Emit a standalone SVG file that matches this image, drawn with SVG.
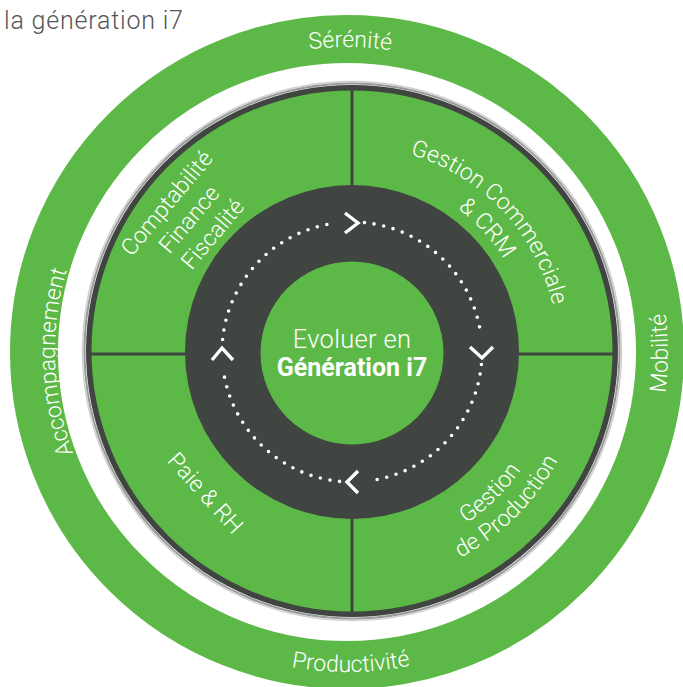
<svg xmlns="http://www.w3.org/2000/svg" width="683" height="687" viewBox="0 0 683 687">
<style>
.lbl{font-family:Roboto,"Liberation Sans",sans-serif;fill:#fff}
.ring{font-size:23px;font-weight:300}
.q{font-size:23px;font-weight:300}
.div{stroke:#404541;stroke-width:3}
.dot{fill:none;stroke:#fff;stroke-width:3.6;stroke-linecap:round;stroke-dasharray:0 9.77}
.chev{fill:none;stroke:#fff;stroke-width:3.4}
</style>
<defs>
<path id="t305" d="M -305 0 A 305 305 0 0 1 305 0"/>
<path id="t292" d="M -292 0 A 292 292 0 0 1 292 0"/>
<path id="b320" d="M -320 0 A 320 320 0 0 0 320 0"/>
<path id="b321" d="M -321 0 A 321 321 0 0 0 321 0"/>
<path id="t206" d="M -206 0 A 206 206 0 0 1 206 0"/>
<path id="t178" d="M -178 0 A 178 178 0 0 1 178 0"/>
<path id="b232" d="M -232.5 0 A 232.5 232.5 0 0 0 232.5 0"/>
<path id="b206" d="M -206 0 A 206 206 0 0 0 206 0"/>
</defs>
<rect width="683" height="687" fill="#fff"/>
<text id="title" x="4" y="29" font-family="Roboto,'Liberation Sans',sans-serif" font-size="25" font-weight="300" letter-spacing="0.8" fill="#555">la génération i7</text>

<g id="outer-ring">
<circle cx="347" cy="352" r="313" fill="none" stroke="#5db947" stroke-width="48"/>
<g transform="translate(347,352) rotate(0.6)"><text class="lbl ring" text-anchor="middle"><textPath href="#t305" startOffset="50%">Sérénité</textPath></text></g>
<g transform="translate(347,352) rotate(-92)"><text class="lbl ring" text-anchor="middle"><textPath href="#t292" startOffset="50%">Accompagnement</textPath></text></g>
<g transform="translate(347,352) rotate(-0.7)"><text class="lbl ring" text-anchor="middle"><textPath href="#b320" startOffset="50%">Productivité</textPath></text></g>
<g transform="translate(347,352) rotate(-89.8)"><text class="lbl ring" text-anchor="middle"><textPath href="#b321" startOffset="50%">Mobilité</textPath></text></g>
</g>

<g id="modules">
<circle cx="352" cy="351" r="269.5" fill="none" stroke="#d0d0d0" stroke-width="1.5"/>
<circle cx="352" cy="351" r="267.5" fill="none" stroke="#999" stroke-width="2"/>
<circle cx="352" cy="351" r="266" fill="#404541"/>
<circle cx="352" cy="351" r="260.5" fill="#5db947"/>
</g>

<g id="connectors">
<line class="div" x1="352" y1="88" x2="352" y2="190"/>
<line class="div" x1="352" y1="514" x2="352" y2="613"/>
<line class="div" x1="89" y1="354" x2="190" y2="354"/>
<line class="div" x1="514" y1="354" x2="615" y2="354"/>
</g>

<g id="comptabilite" transform="translate(188.7,219) rotate(-50)">
<text class="lbl q" text-anchor="middle"><tspan x="-2" y="-19.3">Comptabilité</tspan><tspan x="0" y="8.3">Finance</tspan><tspan x="3.8" y="35.8">Fiscalité</tspan></text>
</g>
<g id="gestion-commerciale">
<g transform="translate(352,352) rotate(46.6)"><text class="lbl q" text-anchor="middle"><textPath href="#t206" startOffset="50%">Gestion Commerciale</textPath></text></g>
<g transform="translate(352,352) rotate(47.5)"><text class="lbl q" text-anchor="middle"><textPath href="#t178" startOffset="50%">&amp; CRM</textPath></text></g>
</g>
<g id="paie-rh" transform="translate(205.8,492.8) rotate(48)">
<text class="lbl q" text-anchor="middle" x="0" y="8.3">Paie &amp; RH</text>
</g>
<g id="gestion-production">
<g transform="translate(352,352) rotate(-44.4)"><text class="lbl q" text-anchor="middle"><textPath href="#b206" startOffset="50%">Gestion</textPath></text></g>
<g transform="translate(352,352) rotate(-45)"><text class="lbl q" text-anchor="middle"><textPath href="#b232" startOffset="50%">de Production</textPath></text></g>
</g>

<g id="cycle">
<circle cx="352" cy="352" r="167" fill="#404541"/>
<path class="dot" d="M 364.45 222.6 A 130 130 0 0 1 481 336.15"/>
<path class="dot" d="M 481.4 364.45 A 130 130 0 0 1 367.85 481"/>
<path class="dot" d="M 339.55 481.4 A 130 130 0 0 1 223 367.85"/>
<path class="dot" d="M 222.6 339.55 A 130 130 0 0 1 336.15 223"/>
<polyline class="chev" points="345,213 358,223 345,233"/>
<polyline class="chev" points="470,347 482,358 493,347"/>
<polyline class="chev" points="358,471 347,482 358,493"/>
<polyline class="chev" points="212,360 222,348 233,360"/>
</g>

<g id="center">
<circle cx="352" cy="353" r="91.5" fill="#5db947"/>
<text class="lbl" x="352" y="348" text-anchor="middle" font-size="25.5" font-weight="300" letter-spacing="0.3">Evoluer en</text>
<text class="lbl" x="352" y="376" text-anchor="middle" font-size="25" font-weight="700">Génération i7</text>
</g>
</svg>
